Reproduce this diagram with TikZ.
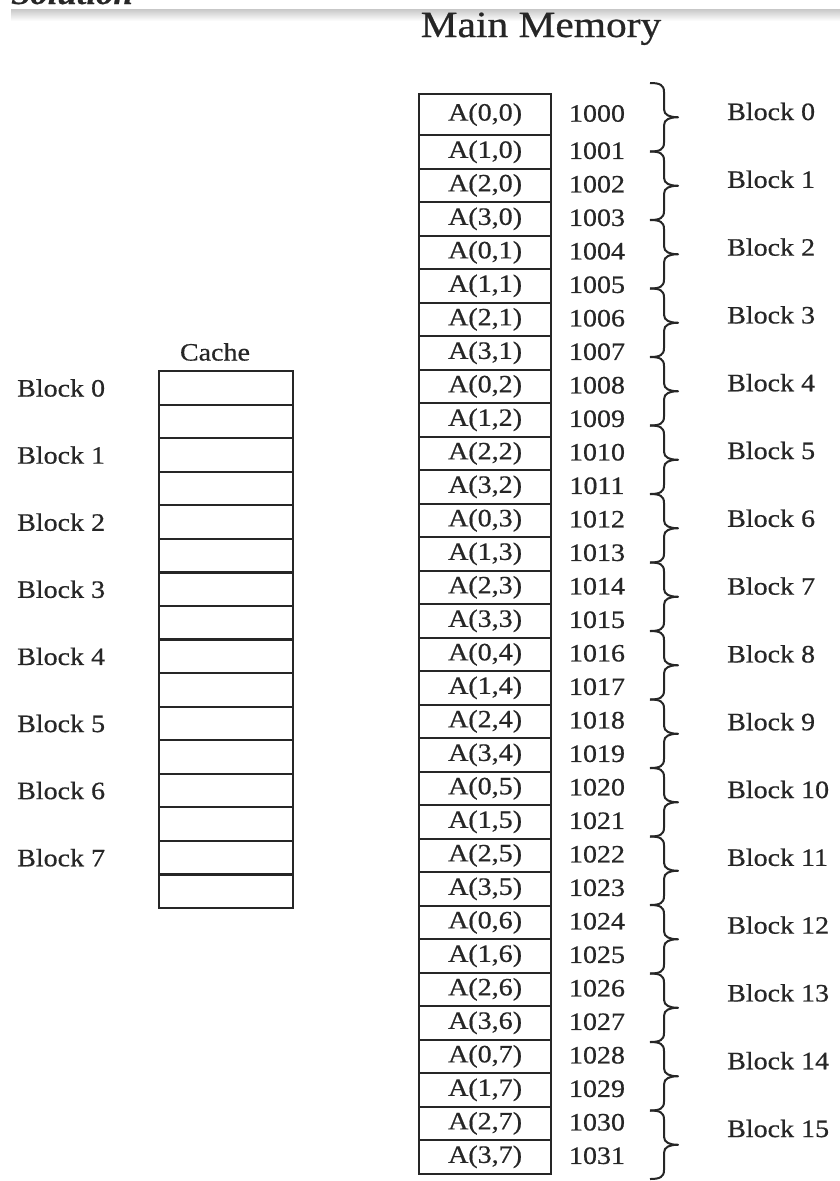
\documentclass[tikz,border=0pt]{standalone}
\usepackage{fontspec}
\newfontfamily\tnr[FakeStretch=1.12,FakeBold=0.6]{Liberation Serif}
\definecolor{ink}{gray}{0.15}
\tikzset{
  x=1pt, y=-1pt,
  every node/.style={text=ink, font=\tnr\fontsize{25}{29}\selectfont},
  cell/.style={draw=ink, line width=2.2pt, minimum width=132pt, minimum height=33.5pt, inner sep=0pt},
  cachecell/.style={draw=ink, line width=2.2pt, minimum width=134pt, minimum height=33.56pt, inner sep=0pt},
  addr/.style={inner sep=0pt},
  blocklabel/.style={anchor=west, inner sep=0pt},
  bracepath/.style={draw=ink, line width=2pt, line join=round},
}
% curly brace from (650,#1) down to (650,#2), stem at x=664, tip at x=678
\newcommand{\blockbrace}[3]{%
  \coordinate (bt#3) at (650,#1);
  \coordinate (bb#3) at (650,#2);
  \pgfmathsetmacro{\ym}{(#1+#2)/2}
  \draw[bracepath] (bt#3)
    .. controls (660,#1) and (664,#1+2) .. (664,#1+9)
    -- (664,\ym-8)
    .. controls (664,\ym-2) and (670,\ym) .. (678,\ym)
    .. controls (670,\ym) and (664,\ym+2) .. (664,\ym+8)
    -- (664,#2-9)
    .. controls (664,#2-2) and (660,#2) .. (bb#3);
}
\begin{document}
\begin{tikzpicture}
\useasboundingbox (0,0) rectangle (840,1181);
\clip (0,0) rectangle (840,1181);

% page edge shading at the top
\shade[top color=black!22, bottom color=white] (11,9) rectangle (840,21);

% heading cut off by the page edge
\node[anchor=base west, inner sep=0pt, font=\tnr\bfseries\itshape\fontsize{31}{34}\selectfont] (sol) at (11,4) {Solution};

% title
\node[anchor=base, inner sep=0pt, font=\tnr\fontsize{37}{40}\selectfont] (title) at (541,37) {Main Memory};

% main memory words and their addresses
\node[cell, minimum height=41pt, anchor=north west] (m0) at (418,93) {A(0,0)};
\node[addr] (a0) at (597,113.5) {1000};
\foreach \i in {1,...,31}{
  \pgfmathsetmacro{\top}{134+33.5*(\i-1)}
  \pgfmathsetmacro{\mid}{134+33.5*(\i-0.5)}
  \pgfmathtruncatemacro{\row}{mod(\i,4)}
  \pgfmathtruncatemacro{\col}{floor(\i/4)}
  \pgfmathtruncatemacro{\adr}{1000+\i}
  \node[cell, anchor=north west] (m\i) at (418,\top) {A(\row,\col)};
  \node[addr] (a\i) at (597,\mid) {\adr};
}

% braces grouping two words into one block
\foreach \k in {0,...,15}{
  \pgfmathsetmacro{\ya}{83+68.5*\k}
  \pgfmathsetmacro{\yb}{83+68.5*(\k+1)}
  \pgfmathsetmacro{\yl}{111.5+67.8*\k}
  \blockbrace{\ya}{\yb}{\k}
  \node[blocklabel] (mb\k) at (727,\yl) {Block \k};
}

% cache
\node[anchor=center, inner sep=0pt] (cachetitle) at (215,352) {Cache};
\foreach \j in {0,...,15}{
  \pgfmathsetmacro{\top}{370+33.56*\j}
  \node[cachecell, anchor=north west] (c\j) at (158,\top) {};
}
\foreach \k in {0,...,7}{
  \pgfmathsetmacro{\yl}{388+67.1*\k}
  \node[blocklabel] (cb\k) at (17,\yl) {Block \k};
}
\end{tikzpicture}
\end{document}
